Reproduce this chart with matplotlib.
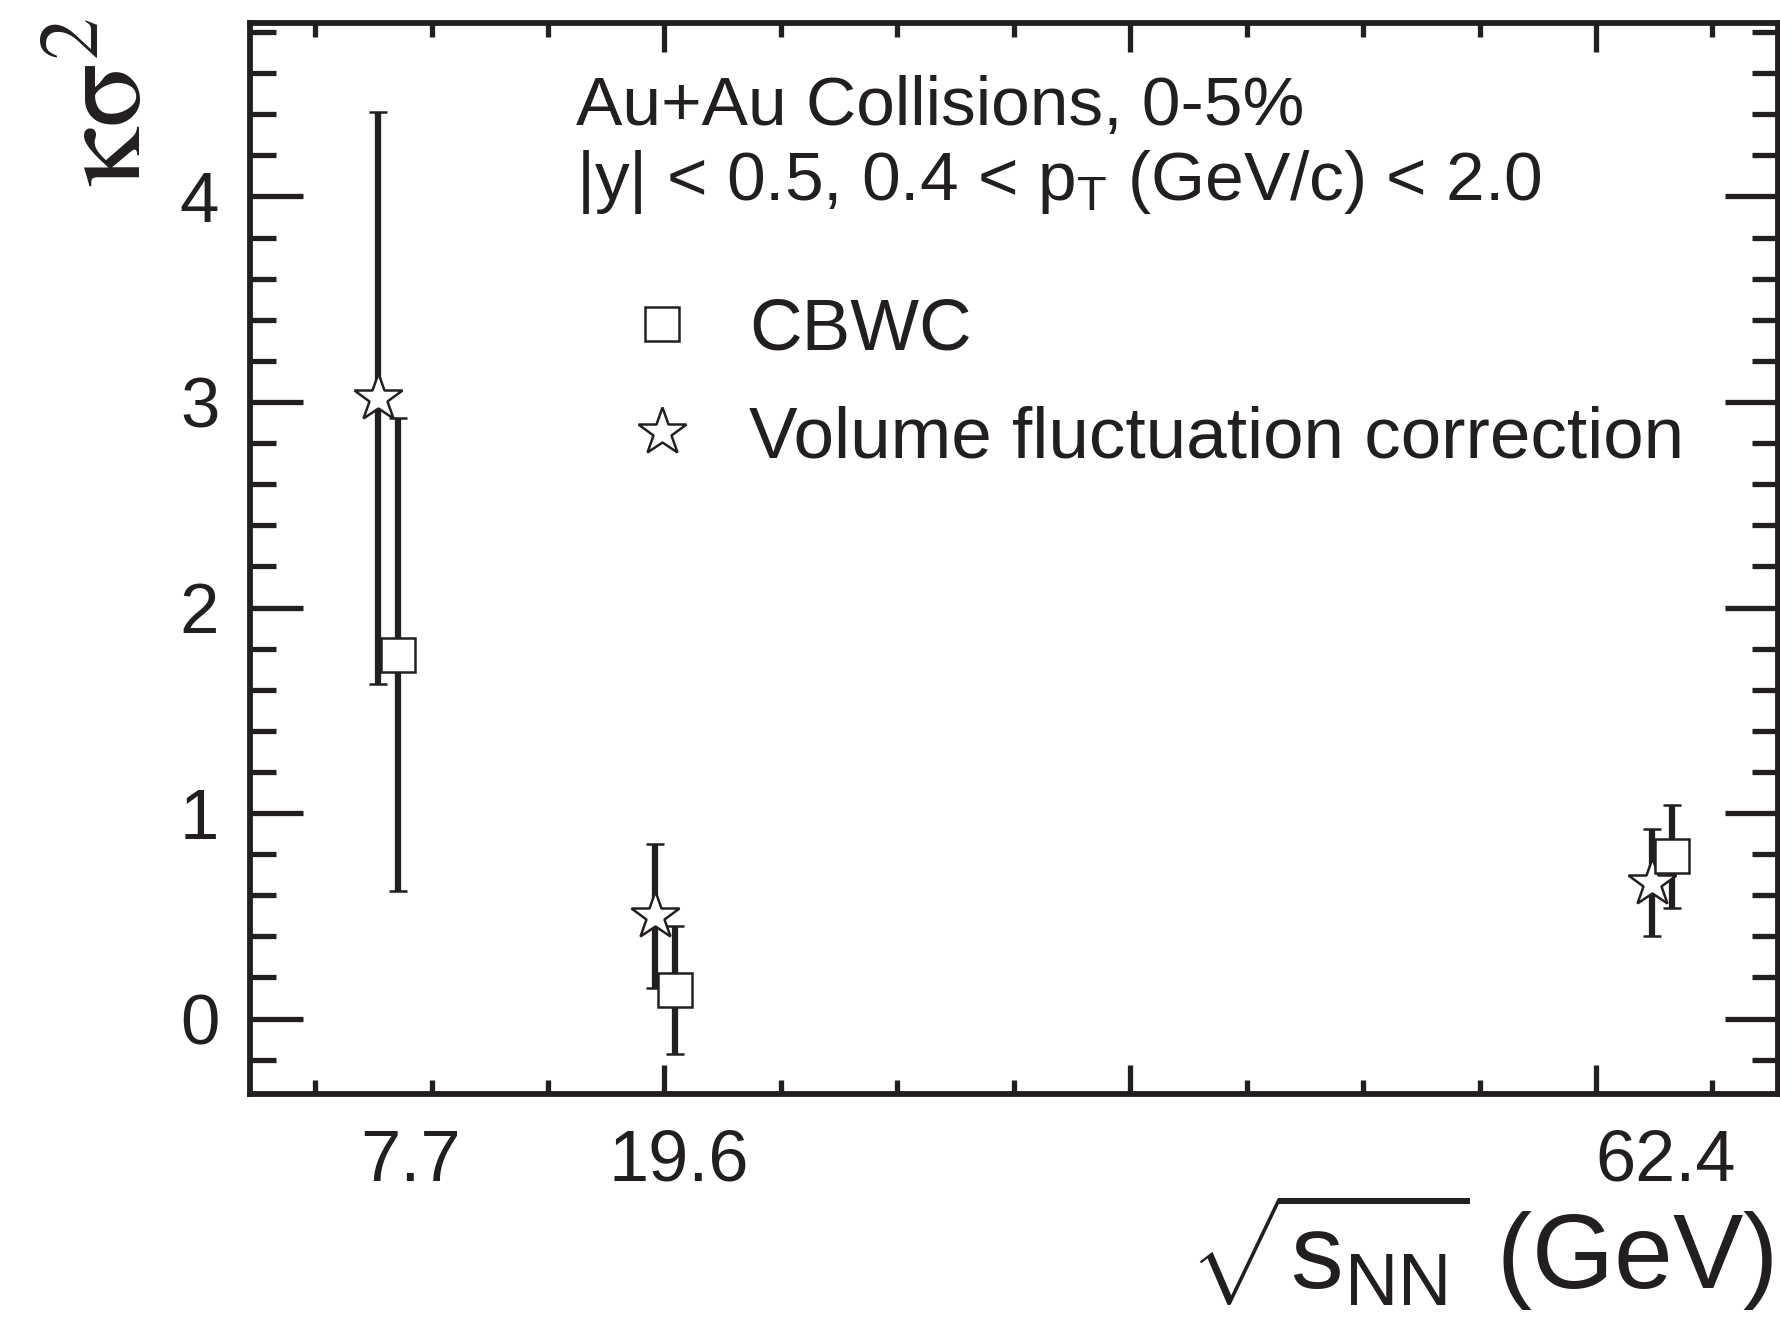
import matplotlib
matplotlib.use("Agg")
import matplotlib.pyplot as plt
from matplotlib.ticker import MultipleLocator
from matplotlib.transforms import blended_transform_factory

plt.rcParams['font.family'] = ['Liberation Sans', 'DejaVu Sans']
plt.rcParams['mathtext.fontset'] = 'custom'
plt.rcParams['mathtext.rm'] = 'Liberation Sans'
plt.rcParams['mathtext.it'] = 'Liberation Sans:italic'
plt.rcParams['mathtext.bf'] = 'Liberation Sans:bold'

# collision energies (GeV)
energies = [7.7, 19.6, 62.4]
energy_labels = ["7.7", "19.6", "62.4"]

# kappa*sigma^2, centrality bin width corrected
cbwc = [1.77, 0.14, 0.79]
cbwc_err = [1.15, 0.31, 0.25]

# kappa*sigma^2, volume fluctuation corrected
vfc = [3.02, 0.50, 0.66]
vfc_err = [1.39, 0.35, 0.26]

cbwc_shift = 0.85
label_shift = [1.4, 1.0, 0.6]
ink = '#231f20'

fig = plt.figure(figsize=(17.81, 13.23), dpi=100)
ax = fig.add_axes([0.1403, 0.1734, 0.8578, 0.8094])

err_kw = dict(ls='none', ecolor=ink, elinewidth=4.5, capsize=6.5, capthick=5,
              mfc='white', mec=ink, zorder=3)
ax.errorbar(energies, vfc, yerr=vfc_err, marker='*', ms=36, mew=1.8, **err_kw)
ax.errorbar([e + cbwc_shift for e in energies], cbwc, yerr=cbwc_err, marker='s', ms=25,
            mew=1.8, **err_kw)

ax.set_xlim(2.2, 67.8)
ax.set_ylim(-0.365, 4.845)

ax.xaxis.set_major_locator(MultipleLocator(20))
ax.xaxis.set_minor_locator(MultipleLocator(5))
ax.yaxis.set_major_locator(MultipleLocator(1))
ax.yaxis.set_minor_locator(MultipleLocator(0.2))
ax.set_xticklabels([])

ax.xaxis.set_tick_params(which='major', direction='in', length=21, width=3.8,
                         top=True, bottom=True)
ax.xaxis.set_tick_params(which='minor', direction='in', length=10, width=3.8,
                         top=True, bottom=True)
ax.yaxis.set_tick_params(which='major', direction='in', length=38, width=3.8,
                         left=True, right=True, labelsize=51, pad=22)
ax.yaxis.set_tick_params(which='minor', direction='in', length=19, width=3.8,
                         left=True, right=True)
for sp in ax.spines.values():
    sp.set_linewidth(4.2)
    sp.set_color(ink)
ax.tick_params(colors=ink, which='both')

# energy labels under the axis
trans = blended_transform_factory(ax.transData, ax.transAxes)
for e, lab, dx in zip(energies, energy_labels, label_shift):
    ax.text(e + dx, -0.033, lab, transform=trans, ha='center', va='top',
            fontsize=52, color=ink)

ax.text(0.2134, 0.9046, "Au+Au Collisions, 0-5%", transform=ax.transAxes,
        fontsize=50, color=ink, va='baseline')
ax.text(0.2134, 0.8346, r"|y| < 0.5, 0.4 < p$_{\mathrm{T}}$ (GeV/c) < 2.0",
        transform=ax.transAxes, fontsize=50, color=ink, va='baseline')

# legend
ax.plot([0.2699], [0.719], transform=ax.transAxes, marker='s', ms=25, mfc='white',
        mec=ink, mew=1.8, ls='none', clip_on=False)
ax.plot([0.2699], [0.618], transform=ax.transAxes, marker='*', ms=36, mfc='white',
        mec=ink, mew=1.8, ls='none', clip_on=False)
ax.text(0.327, 0.719, "CBWC", transform=ax.transAxes, fontsize=52.5,
        color=ink, va='center_baseline')
ax.text(0.327, 0.618, "Volume fluctuation correction", transform=ax.transAxes,
        fontsize=52.5, color=ink, va='center_baseline')

fig.text(0.0618, 0.986, r"$\mathrm{\kappa\sigma}^{2}$", rotation=90, ha='center',
         va='top', fontsize=86, math_fontfamily='stix', color=ink)
fig.text(0.996, 0.026, r"$\sqrt{\mathrm{s}_{\mathrm{NN}}}$ (GeV)", ha='right',
         va='baseline', fontsize=76, color=ink)

fig.savefig("out.png", dpi=100)
